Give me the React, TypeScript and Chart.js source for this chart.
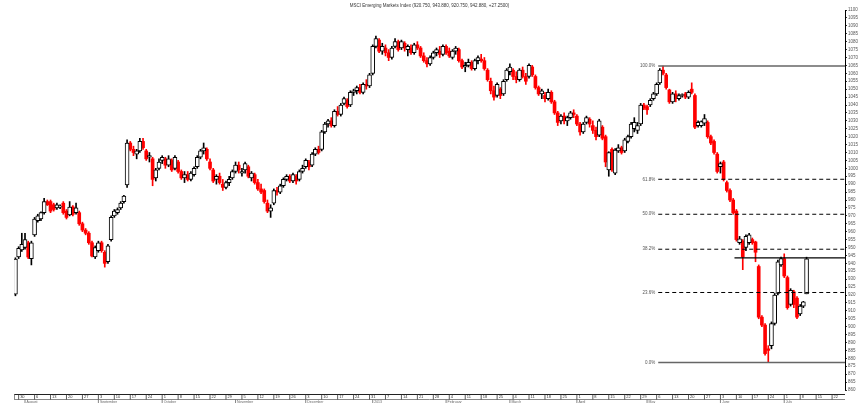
import React, { useEffect, useRef } from "react";
import { Chart, registerables } from "chart.js";

Chart.register(...registerables);

// ---- data ----
const firstTradingDay = "2012-07-27";
const titleText =
  "MSCI Emerging Markets Index (920.750, 943.880, 920.750, 942.880, +27.2500)";

const opens = [
  920.6, 944, 948.5, 950, 953, 943,
  958, 967, 968, 972, 979, 979, 977, 975, 975.5, 978,
  973, 970.5, 975.6, 972, 972, 965, 961, 959, 953, 944,
  948, 953, 947, 941, 955, 970, 972, 975, 979, 989.5,
  1016, 1012, 1009, 1011, 1017, 1011, 1007, 1006, 994, 1000,
  1005, 1006, 1002, 1005, 1000, 1004, 998, 994, 996, 993,
  996, 1001, 1007, 1011, 1012, 1004, 999, 993, 995, 990,
  988, 991, 994, 998, 1002, 997, 999, 1001, 994, 996,
  991, 987, 986, 978, 973, 978, 986, 985, 989, 993,
  995, 992, 995, 993, 998, 1001, 1004, 1002, 1009, 1012,
  1012, 1023, 1028, 1030, 1027, 1036, 1034, 1041, 1043, 1040,
  1048, 1049, 1051, 1048, 1053, 1052, 1060, 1077, 1081, 1074,
  1076, 1073, 1070, 1077, 1080, 1076, 1079, 1075, 1076, 1073,
  1078, 1076, 1071, 1068, 1066, 1070, 1073, 1074, 1072, 1077,
  1074, 1070, 1074, 1075, 1068, 1064, 1065, 1067, 1063, 1068,
  1069, 1068, 1062, 1055, 1049, 1046, 1050, 1047, 1056, 1061,
  1062, 1058, 1056, 1062, 1058, 1058, 1064, 1058, 1051, 1047,
  1046, 1044, 1048, 1042, 1035, 1030, 1033, 1030, 1032, 1035,
  1033, 1028, 1023, 1029, 1031, 1027, 1024, 1021, 1026, 1020,
  999, 1012, 997, 1011, 1013, 1011, 1017, 1020, 1025, 1024,
  1028, 1040, 1039, 1040, 1044, 1047, 1054, 1062, 1059, 1049.5,
  1042, 1047, 1044, 1046, 1047, 1045, 1050, 1046, 1027, 1027,
  1028.5, 1029, 1020, 1017, 1009, 1001, 1004, 991, 986, 980,
  973, 953, 954, 950, 953, 955, 953.5, 938, 906, 901,
  886, 888, 902, 921, 939, 943, 931, 914, 922, 918,
  908, 913, 920.75,
];

const highs = [
  943.5, 950.5, 959, 959, 954, 954,
  969, 971, 972.5, 981, 980, 980, 978, 978, 977, 979,
  974, 979, 976.5, 978, 973, 966, 962, 960, 954, 951,
  954, 954, 948, 952, 970, 974, 975, 979, 983, 1018,
  1017, 1014, 1012, 1019, 1019, 1012, 1010, 1007, 1000, 1006,
  1008, 1007, 1008, 1006, 1008, 1005, 999, 998, 998, 998,
  1001, 1008, 1012, 1016, 1013, 1006, 1000, 996, 997, 993,
  992, 995, 999, 1004, 1004, 1000, 1004, 1002, 998, 997,
  993, 990, 987, 980, 977, 987, 988, 990, 994, 996,
  996, 997, 996, 999, 1002, 1006, 1005, 1010, 1013, 1014,
  1024, 1029, 1031, 1032, 1037, 1039, 1041, 1045, 1044, 1049,
  1050, 1052, 1053, 1054, 1056, 1060, 1078, 1083.5, 1082, 1079,
  1078, 1075, 1077, 1082, 1081, 1081, 1080, 1078, 1078, 1079,
  1080, 1077, 1073, 1070, 1071, 1074, 1076, 1077, 1078, 1078,
  1076, 1075, 1077, 1076, 1069, 1067, 1069, 1068, 1069, 1071,
  1072, 1070, 1063, 1057, 1052, 1054, 1051, 1056, 1063, 1066,
  1063, 1061, 1063, 1064, 1060, 1066, 1065, 1059, 1052, 1050,
  1048, 1050, 1049, 1043, 1036, 1034, 1035, 1033, 1036, 1037,
  1034, 1029, 1029, 1033, 1032, 1030, 1026, 1031, 1027, 1021,
  1010.5, 1013, 1012.5, 1015, 1014, 1019, 1021, 1029, 1032, 1029,
  1041, 1041, 1040, 1044, 1048, 1054, 1063, 1064.6, 1060, 1050,
  1048, 1049, 1047, 1047, 1048, 1049, 1054, 1047, 1030, 1030,
  1034, 1030, 1021, 1018, 1010, 1004, 1005, 992, 987, 981,
  974, 957, 955, 958, 959, 956, 954, 939, 907, 902,
  888, 903, 921, 942, 944, 946, 932, 924, 923, 919,
  914, 916, 943.88,
];

const lows = [
  919.5, 943, 947.5, 949, 943, 939,
  957, 966, 967, 971, 976.5, 972, 973, 974, 974.5, 971,
  968, 970, 970, 971, 964, 960, 958, 952, 944, 943,
  947, 947, 937.6, 940, 954, 969, 971, 974, 978, 988,
  1011, 1008, 1006, 1010, 1012, 1005, 1004, 989, 992, 999,
  1003, 1000, 1001, 998, 999, 997, 993, 991, 992, 992,
  995, 1000, 1006, 1009, 1005, 999, 991, 990, 990, 986,
  987, 989, 993, 997, 997, 995, 997, 994, 992, 990,
  986, 984, 978, 972, 969, 977, 983, 984, 988, 992,
  991, 991, 990, 992, 997, 1000, 999, 1001, 1008, 1009,
  1011, 1022, 1026, 1026, 1026, 1033, 1033, 1040, 1038, 1039,
  1046, 1047, 1047, 1047, 1050, 1051, 1059, 1076, 1073, 1072,
  1071, 1068, 1069, 1076, 1074, 1075, 1074, 1071, 1072, 1072,
  1075, 1070, 1067, 1064, 1065, 1069, 1071, 1070, 1071, 1072,
  1070, 1069, 1072, 1067, 1063, 1061, 1064, 1062, 1062, 1066,
  1067, 1062, 1055, 1047, 1043, 1045, 1044, 1046, 1055, 1059,
  1056, 1054, 1055, 1057, 1053, 1057, 1058, 1050, 1046, 1044,
  1042, 1043, 1041, 1034, 1027, 1028, 1028, 1027, 1031, 1032,
  1027, 1021, 1022, 1028, 1026, 1022, 1018, 1020, 1018, 1001,
  995, 998, 996, 1010, 1009, 1010, 1016, 1019, 1023, 1022,
  1027, 1037, 1034, 1039, 1043, 1046, 1053, 1059, 1050, 1041,
  1041, 1042, 1043, 1045, 1044, 1044, 1047, 1025, 1026, 1026,
  1027, 1019, 1015, 1009, 997, 997, 992, 985, 979, 971,
  954, 952, 936, 948, 952, 952, 941, 905, 900, 882,
  877.4, 886, 901, 920, 938, 931, 911, 913, 912, 905,
  907, 912, 920.75,
];

const closes = [
  942.7, 949.5, 952, 955, 944, 953,
  968, 970, 972, 979, 977, 973, 974, 977, 976, 972,
  969, 975.6, 971, 975, 965, 961, 959, 953, 944.6, 950,
  953, 948, 940, 951, 969, 973, 974, 978, 982.5, 1016,
  1012, 1010, 1011, 1017, 1013, 1006, 1008, 993, 999, 1004,
  1007, 1002, 1006, 999, 1007, 998, 994, 996, 993, 997,
  1000, 1007, 1011, 1013, 1006, 1000, 992, 995, 991, 988,
  991, 993, 998, 1002, 999, 998, 1003, 995, 997, 991,
  987, 985, 979, 973, 975, 986, 985, 989, 993, 995,
  992, 996, 992, 998, 1000, 1005, 1001, 1009, 1012, 1010,
  1023, 1028, 1030, 1027, 1036, 1034, 1040, 1044, 1039, 1048,
  1049, 1051, 1048, 1053, 1052, 1059, 1077, 1082, 1074, 1077,
  1073, 1070, 1076, 1080, 1075, 1080, 1076, 1077, 1073, 1078,
  1076, 1071, 1068, 1066, 1070, 1073, 1075, 1072, 1077, 1073,
  1071, 1074, 1076, 1068, 1064, 1065, 1067, 1063, 1068, 1070,
  1068, 1063, 1056, 1049, 1045, 1053, 1046, 1055, 1062, 1064,
  1058, 1056, 1062, 1058, 1055, 1065, 1059, 1051, 1047, 1049,
  1044, 1048, 1042, 1035, 1029, 1033, 1030, 1032, 1035, 1034,
  1028, 1023, 1028, 1032, 1028, 1024, 1020, 1030, 1019, 1004,
  1010, 999, 1011.5, 1013, 1010, 1018, 1020, 1028, 1029, 1027,
  1040, 1038, 1037, 1043, 1047, 1053, 1062, 1060, 1051, 1042,
  1047, 1044, 1046, 1046.3, 1045, 1048, 1048, 1026, 1029, 1029.5,
  1031.5, 1020, 1016, 1010, 998, 1003, 993, 986, 980, 972,
  955, 955.5, 944, 957, 958, 953, 947, 906, 901, 883,
  885, 902, 920, 941, 943, 932, 912, 923, 914, 906,
  913, 915.63, 942.88,
];

const monthLabels = [
  "August", "September", "October", "November", "December", "2013",
  "February", "March", "April", "May", "June", "July",
];

const fibRatios = [1, 0.618, 0.5, 0.382, 0.236, 0];
const fibLabels = ["100.0%", "61.8%", "50.0%", "38.2%", "23.6%", "0.0%"];
const fibLookbackBars = 60;
const resistanceLevel = 943.5;
const resistanceStartBar = 225.4;

// axis ranges
const yMin = 860;
const yMax = 1100;
const yStep = 5;
const xMin = -0.45;
const xMax = 260.05;

// ---- derived ----
const UP = "#ffffff";
const DOWN = "#ff0000";

function buildCalendar(count: number): Date[] {
  const out: Date[] = [];
  const d = new Date(firstTradingDay + "T00:00:00Z");
  while (out.length < count) {
    const wd = d.getUTCDay();
    if (wd !== 0 && wd !== 6) out.push(new Date(d.getTime()));
    d.setUTCDate(d.getUTCDate() + 1);
  }
  return out;
}

const calendar = buildCalendar(Math.floor(xMax) + 1);

// fib retracement: swing high within the lookback window, then the lowest low after it
const lookStart = highs.length - fibLookbackBars;
let swingHighIdx = lookStart;
for (let k = lookStart; k < highs.length; k++) {
  if (highs[k] > highs[swingHighIdx]) swingHighIdx = k;
}
let troughIdx = swingHighIdx;
for (let k = swingHighIdx; k < lows.length; k++) {
  if (lows[k] < lows[troughIdx]) troughIdx = k;
}
const fibHigh = highs[swingHighIdx];
const fibLow = lows[troughIdx];
const fibStart = swingHighIdx - 1.5;
const fibLevels = fibRatios.map((r) => fibLow + r * (fibHigh - fibLow));

const wickData = closes.map((c, k) => ({ x: k, y: [lows[k], highs[k]] }));
const upData: any[] = [];
const downData: any[] = [];
closes.forEach((c, k) => {
  const o = opens[k];
  if (c >= o) upData.push({ x: k, y: [o, c] });
  else downData.push({ x: k, y: [o, c] });
});

const FONT = '"Liberation Sans", Arial, sans-serif';

const overlayPlugin = {
  id: "overlay",
  afterDraw(chart: any) {
    const { ctx, chartArea: ca, scales } = chart;
    const xs = scales.x;
    const ys = scales.y;
    ctx.save();

    // title
    ctx.font = `4.5px ${FONT}`;
    ctx.fillStyle = "#333";
    ctx.textAlign = "center";
    ctx.textBaseline = "middle";
    ctx.fillText(titleText, (ca.left + ca.right) / 2, 6);

    // fib labels
    ctx.font = `4.5px ${FONT}`;
    ctx.fillStyle = "#555";
    ctx.textAlign = "right";
    const lx = xs.getPixelForValue(fibStart) - 3;
    fibLevels.forEach((lv, j) => {
      ctx.fillText(fibLabels[j], lx, ys.getPixelForValue(lv));
    });

    // date strip
    const top = ca.bottom + 4.5;
    const bot = ca.bottom + 9.5;
    ctx.strokeStyle = "#222";
    ctx.lineWidth = 1.2;
    ctx.beginPath();
    ctx.moveTo(ca.left, top);
    ctx.lineTo(ca.right, top);
    ctx.stroke();
    ctx.strokeStyle = "#888";
    ctx.lineWidth = 1;
    ctx.beginPath();
    ctx.moveTo(ca.left, bot);
    ctx.lineTo(ca.right, bot);
    ctx.moveTo(ca.left + 0.5, top);
    ctx.lineTo(ca.left + 0.5, bot);
    ctx.stroke();

    ctx.textAlign = "left";
    ctx.textBaseline = "middle";
    let monthCount = 0;
    calendar.forEach((d, k) => {
      if (k < xMin || k > xMax) return;
      const px = xs.getPixelForValue(k);
      if (d.getUTCDay() === 1) {
        ctx.strokeStyle = "#333";
        ctx.lineWidth = 0.8;
        ctx.beginPath();
        ctx.moveTo(px, top);
        ctx.lineTo(px, bot);
        ctx.stroke();
        ctx.font = `4px ${FONT}`;
        ctx.fillStyle = "#333";
        ctx.fillText(String(d.getUTCDate()), px + 1.5, (top + bot) / 2 + 0.3);
      }
      const prev = k > 0 ? calendar[k - 1] : null;
      if (prev && prev.getUTCMonth() !== d.getUTCMonth() && monthCount < monthLabels.length) {
        ctx.strokeStyle = "#666";
        ctx.lineWidth = 0.8;
        ctx.beginPath();
        ctx.moveTo(px, bot);
        ctx.lineTo(px, bot + 4);
        ctx.stroke();
        ctx.font = `3.5px ${FONT}`;
        ctx.fillStyle = "#666";
        ctx.fillText(monthLabels[monthCount], px + 1.5, bot + 2.3);
        monthCount++;
      }
    });

    ctx.restore();
  },
};

function fibLine(level: number, j: number) {
  const solid = fibRatios[j] === 1 || fibRatios[j] === 0;
  return {
    type: "line" as const,
    data: [
      { x: fibStart, y: level },
      { x: xMax, y: level },
    ],
    borderColor: solid ? "#666" : "#000",
    borderWidth: solid ? 1.4 : 1,
    borderDash: solid ? [] : [4, 3],
    pointRadius: 0,
    fill: false,
    order: 0,
  };
}

export default function App() {
  const ref = useRef<HTMLCanvasElement>(null);

  useEffect(() => {
    document.body.style.margin = "0";
    const canvas = ref.current;
    if (!canvas) return;
    const chart = new Chart(canvas, {
      type: "bar",
      data: {
        datasets: [
          ...fibLevels.map((lv, j) => fibLine(lv, j)),
          {
            type: "line" as const,
            data: [
              { x: resistanceStartBar, y: resistanceLevel },
              { x: xMax, y: resistanceLevel },
            ],
            borderColor: "#000",
            borderWidth: 1.2,
            pointRadius: 0,
            fill: false,
            order: 0,
          },
          {
            type: "bar" as const,
            data: upData,
            barThickness: 4,
            grouped: false,
            backgroundColor: UP,
            borderColor: "#000",
            borderWidth: 1,
            borderSkipped: false,
            minBarLength: 1,
            order: 1,
          },
          {
            type: "bar" as const,
            data: downData,
            barThickness: 3,
            grouped: false,
            backgroundColor: DOWN,
            borderWidth: 0,
            minBarLength: 1,
            order: 1,
          },
          {
            type: "bar" as const,
            data: wickData,
            barThickness: 1,
            grouped: false,
            backgroundColor: (c: any) =>
              closes[c.dataIndex] >= opens[c.dataIndex] ? "#000" : DOWN,
            borderWidth: 0,
            order: 2,
          },
        ] as any,
      },
      options: {
        animation: false,
        responsive: false,
        maintainAspectRatio: false,
        devicePixelRatio: 1,
        layout: { padding: { left: 14, right: 0, top: 10, bottom: 13 } },
        plugins: {
          legend: { display: false },
          tooltip: { enabled: false },
          title: { display: false },
        },
        scales: {
          x: {
            type: "linear",
            min: xMin,
            max: xMax,
            offset: false,
            display: false,
          },
          y: {
            type: "linear",
            position: "right",
            min: yMin,
            max: yMax,
            ticks: {
              stepSize: yStep,
              autoSkip: false,
              font: { family: FONT, size: 4.5 },
              color: "#555",
              padding: 1,
              callback: (v: any) => String(v),
            },
            grid: {
              drawOnChartArea: false,
              drawTicks: true,
              tickLength: 2,
              color: "#000",
              lineWidth: 0.8,
            },
            border: { display: true, color: "#000", dash: [1, 1], width: 1 },
            afterFit: (s: any) => {
              s.width = 23;
            },
          },
        },
      } as any,
      plugins: [overlayPlugin],
    });
    return () => chart.destroy();
  }, []);

  return (
    <div style={{ width: 868, height: 403, position: "relative", background: "#fff" }}>
      <canvas ref={ref} width={868} height={403} style={{ display: "block", width: 868, height: 403 }} />
    </div>
  );
}
